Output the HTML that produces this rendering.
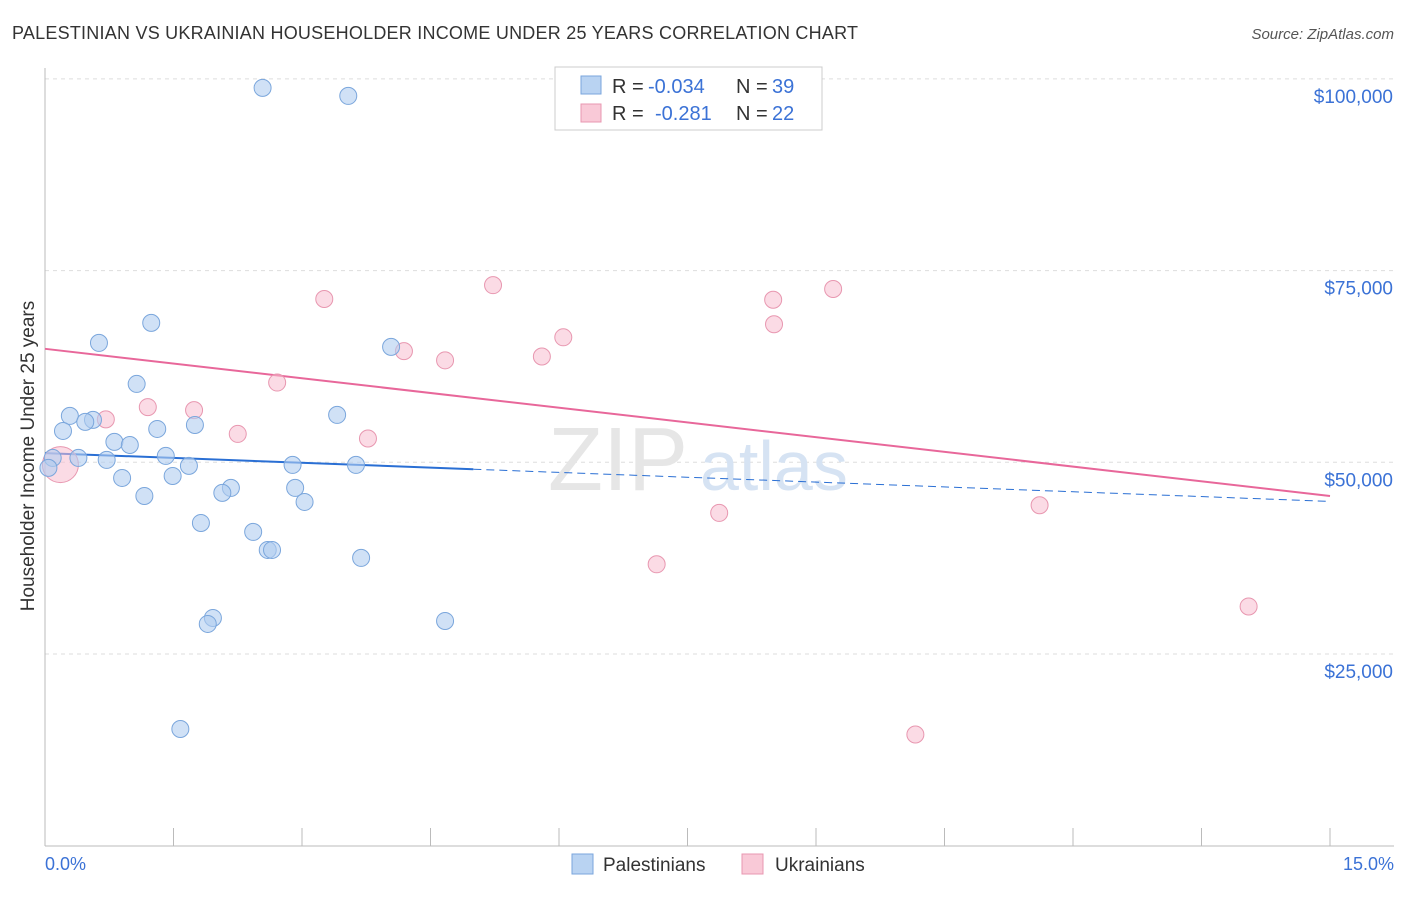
<!DOCTYPE html>
<html><head><meta charset="utf-8"><style>
body{margin:0;background:#fff;font-family:"Liberation Sans",sans-serif;}
svg text{font-family:"Liberation Sans",sans-serif;}
</style></head><body>
<svg width="1406" height="892" xmlns="http://www.w3.org/2000/svg">
<text x="12" y="39" font-size="18" fill="#333" textLength="846">PALESTINIAN VS UKRAINIAN HOUSEHOLDER INCOME UNDER 25 YEARS CORRELATION CHART</text>
<text x="1394" y="39" font-size="15" fill="#555" font-style="italic" text-anchor="end">Source: ZipAtlas.com</text>
<g id="grid"></g>
<text x="688" y="490" font-size="90" fill="#e6e6e6" text-anchor="end" font-family="Liberation Serif">ZIP</text>
<text x="700" y="490" font-size="70" fill="#d6e3f3">atlas</text>
<g id="axes"></g>
<g id="trends"></g>
<g id="pts"></g>
<text x="34" y="456" font-size="19" fill="#333" text-anchor="middle" transform="rotate(-90 34 456)">Householder Income Under 25 years</text>
<text x="45" y="870" font-size="18" fill="#3b72d6">0.0%</text>
<text x="1394" y="870" font-size="18" fill="#3b72d6" text-anchor="end">15.0%</text>
<g>
<rect x="555" y="67" width="267" height="63" fill="#fff" stroke="#ccc"/>
<rect x="581" y="76" width="20" height="18" fill="#b9d3f2" stroke="#7aa6dc"/>
<rect x="581" y="104" width="20" height="18" fill="#f9c9d7" stroke="#e897b0"/>
<text x="612" y="93" font-size="20" fill="#333">R =</text>
<text x="648" y="93" font-size="20" fill="#3b72d6">-0.034</text>
<text x="736" y="93" font-size="20" fill="#333">N =</text>
<text x="772" y="93" font-size="20" fill="#3b72d6">39</text>
<text x="612" y="120" font-size="20" fill="#333">R =</text>
<text x="655" y="120" font-size="20" fill="#3b72d6">-0.281</text>
<text x="736" y="120" font-size="20" fill="#333">N =</text>
<text x="772" y="120" font-size="20" fill="#3b72d6">22</text>
</g>
<g>
<rect x="572" y="854" width="21" height="20" fill="#b9d3f2" stroke="#7aa6dc"/>
<text x="603" y="871" font-size="19" fill="#333">Palestinians</text>
<rect x="742" y="854" width="21" height="20" fill="#f9c9d7" stroke="#e897b0"/>
<text x="775" y="871" font-size="19" fill="#333">Ukrainians</text>
</g>
</svg>
<script>
const yTicks=[25000,50000,75000,100000];
const yTickLabels=["$25,000","$50,000","$75,000","$100,000"];
const blueX=[2.54,3.54,1.24,0.63,4.04,1.07,0.29,3.41,0.56,0.47,0.21,1.31,1.75,0.81,0.99,1.41,0.09,0.39,0.72,1.68,2.89,3.63,0.04,0.90,1.49,1.16,2.17,2.07,2.92,3.03,1.82,2.43,2.60,2.65,3.69,1.96,1.90,4.67,1.58];
const blueY=[98830,97780,68180,65570,65050,60220,56050,56180,55530,55270,54090,54350,54870,52660,52260,50830,50570,50570,50310,49530,49660,49660,49270,47960,48220,45610,46660,46010,46660,44830,42090,40920,38570,38570,37530,29700,28920,29310,15220];
const pinkX=[6.93,5.23,3.26,9.20,8.50,8.51,6.05,4.19,4.67,5.80,2.71,1.20,0.71,1.74,2.25,3.77,0.18,7.87,11.61,7.14,14.05,10.16];
const pinkY=[95000,73100,71300,72600,71200,68000,66300,64500,63300,63800,60400,57200,55600,56800,53700,53100,49700,43400,44400,36700,31200,14500];
const blueTrend=[51200,44900];
const pinkTrend=[64800,45600];
const NS="http://www.w3.org/2000/svg";
const sx=v=>45+v/15*1285;
const sy=v=>845.7-v/25000*191.7;
function mk(tag,attrs,parent){const e=document.createElementNS(NS,tag);for(const k in attrs)e.setAttribute(k,attrs[k]);parent.appendChild(e);return e;}
const grid=document.getElementById('grid'),axes=document.getElementById('axes'),tr=document.getElementById('trends'),pts=document.getElementById('pts');
yTicks.forEach((t,i)=>{
 const l=mk('line',{x1:45,x2:1394,y1:sy(t),y2:sy(t),stroke:'#ddd','stroke-dasharray':'4 4'},grid);
 
 
 const tx=mk('text',{x:1393,y:sy(t)+24,'font-size':19,fill:'#3b72d6','text-anchor':'end'},axes);
 tx.textContent=yTickLabels[i];
 
 
});
let a=mk('line',{x1:45,x2:45,y1:68,y2:846,stroke:'#bbb'},axes);


a=mk('line',{x1:45,x2:1394,y1:846,y2:846,stroke:'#bbb'},axes);


for(let i=1;i<=10;i++){const t=mk('line',{x1:sx(i*1.5),x2:sx(i*1.5),y1:828,y2:846,stroke:'#bbb'},axes);
 
 }
const by=x=>blueTrend[0]+(blueTrend[1]-blueTrend[0])*x/15;
const py=x=>pinkTrend[0]+(pinkTrend[1]-pinkTrend[0])*x/15;
let l=mk('line',{x1:sx(0),y1:sy(by(0)),x2:sx(5),y2:sy(by(5)),stroke:'#2a6fd4','stroke-width':2},tr);


l=mk('line',{x1:sx(5),y1:sy(by(5)),x2:sx(15),y2:sy(by(15)),stroke:'#2a6fd4','stroke-width':1,'stroke-dasharray':'8 5'},tr);


l=mk('line',{x1:sx(0),y1:sy(py(0)),x2:sx(15),y2:sy(py(15)),stroke:'#e8679a','stroke-width':2},tr);


pinkX.forEach((x,i)=>{const r=(i===16)?18:8.5;
 const c=mk('circle',{cx:sx(x),cy:sy(pinkY[i]),r:r,fill:'rgba(248,190,208,0.55)',stroke:'#e897b0','stroke-width':1},pts);
 
 });
blueX.forEach((x,i)=>{
 const c=mk('circle',{cx:sx(x),cy:sy(blueY[i]),r:8.5,fill:'rgba(176,205,240,0.6)',stroke:'#7aa6dc','stroke-width':1},pts);
 
 });
</script>
</body></html>
